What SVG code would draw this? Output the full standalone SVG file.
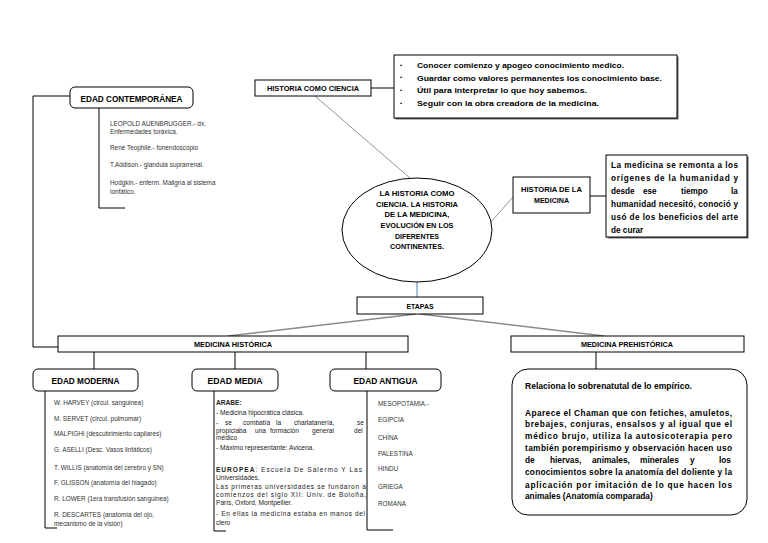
<svg xmlns="http://www.w3.org/2000/svg" width="768" height="543" viewBox="0 0 768 543">
<defs>
<style>
text{font-family:"Liberation Sans",Arial,sans-serif;fill:#000}
.b{font-weight:bold}
.box{fill:#fff;stroke:#000;stroke-width:1}
.sh{fill:#666}
.c{fill:none;stroke:#000;stroke-width:1}
.g{fill:none;stroke:#777;stroke-width:0.8}
.gd{fill:none;stroke:#8a8a8a;stroke-width:1.6}
.h7{font-size:7px;font-weight:bold}
.h9{font-size:9px;font-weight:bold}
.sm{font-size:6.4px;fill:#333}
.md{font-size:6.6px;fill:#222}
.bt{font-size:7.8px;font-weight:bold}
.df{font-size:8.2px;font-weight:bold}
.mp{font-size:8.3px;font-weight:bold}
.el{font-size:8px;font-weight:bold}
</style>
</defs>
<rect width="768" height="543" fill="#fff"/>
<g id="connectors">
<path class="c" d="M70,96 H33 V347 H58"/>
<path class="c" d="M99,108 V208 H125"/>
<path class="c" d="M371,88 H394"/>
<path class="g" d="M315,96 L410,178"/>
<path class="g" d="M491,222 L513,197"/>
<path class="c" d="M590,196 H606"/>
<path fill="none" stroke="#4f81bd" stroke-width="1" d="M417,282 V297"/>
<path class="gd" d="M416,314 L228,336"/>
<path class="gd" d="M420,314 L604,336"/>
<path class="c" d="M94,352 V369 M235,352 V369 M366,352 V369 M596,352 V369"/>
<path class="c" d="M45,391 V528 H57"/>
<path class="c" d="M214,391 V531 H226"/>
<path class="c" d="M367,391 V530 H393"/>
</g>
<g id="edad-contemporanea">
<rect class="box" x="70" y="87" width="123" height="21" rx="5" stroke-width="1.2"/>
<text class="h9" x="131.5" y="102" text-anchor="middle" textLength="102" lengthAdjust="spacingAndGlyphs">EDAD CONTEMPORÁNEA</text>
</g>
<g id="contemporanea-lista">
<text class="sm" x="110" y="125.5">LEOPOLD AUENBRUGGER.- dx.</text>
<text class="sm" x="110" y="133.5">Enfermedades toráxica.</text>
<text class="sm" x="110" y="149.5">René Teophile.- fonendoscopio</text>
<text class="sm" x="110" y="166.5">T.Addison.- glandula suprarrenal.</text>
<text class="sm" x="110" y="184.5">Hodgkin.- enferm. Maligna al sistema</text>
<text class="sm" x="110" y="193.5">lonfático.</text>
</g>
<g id="historia-como-ciencia">
<rect class="box" x="255" y="80" width="116" height="16"/>
<text class="h7" x="313" y="91" text-anchor="middle" textLength="92" lengthAdjust="spacingAndGlyphs">HISTORIA COMO CIENCIA</text>
</g>
<g id="objetivos">
<rect class="sh" x="395.5" y="56.5" width="283" height="63"/>
<rect class="box" x="394" y="55" width="283" height="63"/>
<text class="b" font-size="6" x="400" y="67">•</text>
<text class="b" font-size="6" x="400" y="79">•</text>
<text class="b" font-size="6" x="400" y="92">•</text>
<text class="b" font-size="6" x="400" y="105">•</text>
<text class="bt" x="417" y="68" textLength="207" lengthAdjust="spacingAndGlyphs">Conocer comienzo y apogeo conocimiento medico.</text>
<text class="bt" x="417" y="80.5" textLength="245" lengthAdjust="spacingAndGlyphs">Guardar como valores permanentes  los conocimiento base.</text>
<text class="bt" x="417" y="93" textLength="170" lengthAdjust="spacingAndGlyphs">Útil para interpretar lo que hoy sabemos.</text>
<text class="bt" x="417" y="106" textLength="182" lengthAdjust="spacingAndGlyphs">Seguir con  la obra creadora de la medicina.</text>
</g>
<g id="historia-de-la-medicina">
<rect class="box" x="513" y="177" width="77" height="36"/>
<text class="h7" x="551.5" y="192" text-anchor="middle" textLength="61" lengthAdjust="spacingAndGlyphs">HISTORIA DE LA</text>
<text class="h7" x="551.5" y="203" text-anchor="middle" textLength="35" lengthAdjust="spacingAndGlyphs">MEDICINA</text>
</g>
<g id="definicion">
<rect class="sh" x="607.5" y="156.5" width="141" height="82"/>
<rect class="box" x="606" y="155" width="141" height="82"/>
<text class="df" x="611" y="167.5" textLength="127" lengthAdjust="spacing">La medicina se remonta a los</text>
<text class="df" x="611" y="180.5" textLength="127" lengthAdjust="spacing">orígenes de la humanidad y</text>
<text class="df" y="193.5"><tspan x="611">desde</tspan><tspan x="643">ese</tspan><tspan x="681">tiempo</tspan><tspan x="731">la</tspan></text>
<text class="df" x="611" y="206.5" textLength="127" lengthAdjust="spacing">humanidad necesitó, conoció y</text>
<text class="df" x="611" y="219.5" textLength="127" lengthAdjust="spacing">usó de los beneficios del arte</text>
<text class="df" x="611" y="232.5">de curar</text>
</g>
<g id="centro">
<ellipse cx="417" cy="230" rx="75" ry="52" fill="#fff" stroke="#000" stroke-width="1"/>
<text class="el" x="417" y="196" text-anchor="middle" textLength="75" lengthAdjust="spacingAndGlyphs">LA HISTORIA COMO</text>
<text class="el" x="417" y="206.5" text-anchor="middle" textLength="82" lengthAdjust="spacingAndGlyphs">CIENCIA.  LA HISTORIA</text>
<text class="el" x="417" y="217" text-anchor="middle" textLength="65" lengthAdjust="spacingAndGlyphs">DE LA MEDICINA,</text>
<text class="el" x="417" y="227.5" text-anchor="middle" textLength="73" lengthAdjust="spacingAndGlyphs">EVOLUCIÓN EN LOS</text>
<text class="el" x="417" y="238.5" text-anchor="middle" textLength="44" lengthAdjust="spacingAndGlyphs">DIFERENTES</text>
<text class="el" x="417" y="249" text-anchor="middle" textLength="54" lengthAdjust="spacingAndGlyphs">CONTINENTES.</text>
</g>
<g id="etapas">
<rect class="box" x="357" y="297" width="126" height="17"/>
<text class="h7" x="420" y="308.5" text-anchor="middle" textLength="27" lengthAdjust="spacingAndGlyphs">ETAPAS</text>
</g>
<g id="medicina-historica">
<rect class="box" x="58" y="336" width="350" height="16"/>
<text class="h7" x="233" y="347" text-anchor="middle" textLength="78" lengthAdjust="spacingAndGlyphs">MEDICINA HISTÓRICA</text>
</g>
<g id="medicina-prehistorica">
<rect class="box" x="511" y="336" width="233" height="16"/>
<text class="h7" x="627" y="347" text-anchor="middle" textLength="92" lengthAdjust="spacingAndGlyphs">MEDICINA PREHISTÓRICA</text>
</g>
<g id="edad-moderna">
<rect class="box" x="33" y="369" width="105" height="22" rx="5" stroke-width="1.2"/>
<text class="h9" x="85.5" y="384" text-anchor="middle" textLength="68" lengthAdjust="spacingAndGlyphs">EDAD MODERNA</text>
</g>
<g id="moderna-lista">
<text class="sm" x="54" y="405">W. HARVEY (circul. sanguinea)</text>
<text class="sm" x="54" y="421">M. SERVET (circul. pulmomar)</text>
<text class="sm" x="54" y="436">MALPIGHI (descubrimiento capilares)</text>
<text class="sm" x="54" y="452">G. ASELLI (Desc. Vasos linfáticos)</text>
<text class="sm" x="54" y="469.5">T. WILLIS (anatomía del cerebro y SN)</text>
<text class="sm" x="54" y="485">F. GLISSON (anatomía del hiagado)</text>
<text class="sm" x="54" y="501">R. LOWER (1era transfusión sanguinea)</text>
<text class="sm" x="54" y="517">R. DESCARTES (anatomía del ojo,</text>
<text class="sm" x="54" y="526">mecanismo de la visión)</text>
</g>
<g id="edad-media">
<rect class="box" x="192" y="369" width="86" height="22" rx="5" stroke-width="1.2"/>
<text class="h9" x="235" y="384" text-anchor="middle" textLength="55" lengthAdjust="spacingAndGlyphs">EDAD MEDIA</text>
</g>
<g id="media-texto">
<text class="md b" x="216" y="405">ARABE:</text>
<text class="md" x="216" y="415">- Medicina hipocrática clásica.</text>
<text class="md" y="425"><tspan x="216">-</tspan><tspan x="225">se</tspan><tspan x="243">combatía</tspan><tspan x="276">la</tspan><tspan x="294">charlatanería,</tspan><tspan x="357">se</tspan></text>
<text class="md" y="432.5"><tspan x="216">propiciaba</tspan><tspan x="255">una</tspan><tspan x="270">formación</tspan><tspan x="312">general</tspan><tspan x="354">del</tspan></text>
<text class="md" x="216" y="440">médico</text>
<text class="md" x="216" y="450">- Máximo representante: Avicena.</text>
<text class="md" x="216" y="472" textLength="146" lengthAdjust="spacing"><tspan class="b">EUROPEA</tspan>:  Escuela  De  Salermo  Y  Las</text>
<text class="md" x="216" y="479.5">Universidades.</text>
<text class="md" x="216" y="489" textLength="150" lengthAdjust="spacing">Las primeras universidades se fundaron a</text>
<text class="md" x="216" y="497" textLength="150" lengthAdjust="spacing">comienzos del siglo XII: Univ. de Boloña,</text>
<text class="md" x="216" y="505">París, Oxford, Montpellier.</text>
<text class="md" x="216" y="515.5" textLength="149" lengthAdjust="spacing">- En ellas la medicina estaba en manos del</text>
<text class="md" x="216" y="525">clero</text>
</g>
<g id="edad-antigua">
<rect class="box" x="330" y="369" width="111" height="22" rx="5" stroke-width="1.2"/>
<text class="h9" x="385.5" y="384" text-anchor="middle" textLength="64" lengthAdjust="spacingAndGlyphs">EDAD ANTIGUA</text>
</g>
<g id="antigua-lista">
<text class="sm" x="378" y="405.5">MESOPOTAMIA.-</text>
<text class="sm" x="378" y="421.5">EGIPCIA</text>
<text class="sm" x="378" y="439.5">CHINA</text>
<text class="sm" x="378" y="455.5">PALESTINA</text>
<text class="sm" x="378" y="470.5">HINDU</text>
<text class="sm" x="378" y="488.5">GRIEGA</text>
<text class="sm" x="378" y="505.5">ROMANA</text>
</g>
<g id="prehistorica-texto">
<rect class="box" x="512" y="369" width="235" height="146" rx="16" stroke-width="1.2"/>
<text class="mp" x="525" y="389" textLength="167" lengthAdjust="spacingAndGlyphs">Relaciona lo sobrenatutal de lo empírico.</text>
<text class="mp" x="525" y="415.5" textLength="207" lengthAdjust="spacing">Aparece el Chaman que con fetiches, amuletos,</text>
<text class="mp" x="525" y="427" textLength="207" lengthAdjust="spacing">brebajes, conjuras, ensalsos y al igual que el</text>
<text class="mp" x="525" y="439" textLength="207" lengthAdjust="spacing">médico brujo, utiliza la autosicoterapia pero</text>
<text class="mp" x="525" y="451" textLength="207" lengthAdjust="spacing">también porempirismo y observación hacen uso</text>
<text class="mp" y="463"><tspan x="525">de</tspan><tspan x="550">hiervas,</tspan><tspan x="592">animales,</tspan><tspan x="640">minerales</tspan><tspan x="690">y</tspan><tspan x="719">los</tspan></text>
<text class="mp" x="525" y="475" textLength="207" lengthAdjust="spacing">conocimientos sobre la anatomía del doliente y la</text>
<text class="mp" x="525" y="487.5" textLength="207" lengthAdjust="spacing">aplicación por imitación de lo que hacen los</text>
<text class="mp" x="525" y="499">animales (Anatomía comparada)</text>
</g>
</svg>
